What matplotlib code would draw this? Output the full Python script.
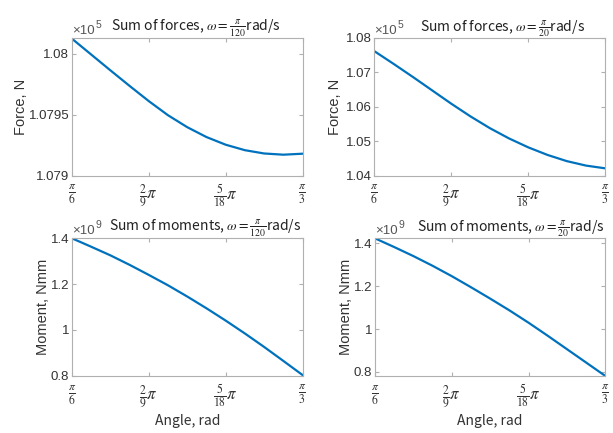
import numpy as np
import matplotlib
matplotlib.use('Agg')
import matplotlib.pyplot as plt

plt.rcParams['mathtext.fontset'] = 'stix'
plt.rcParams['font.family'] = ['Liberation Sans', 'DejaVu Sans']

# angle samples (rad), pi/6 .. pi/3 in steps of pi/72
angle = [12*np.pi/72, 13*np.pi/72, 14*np.pi/72, 15*np.pi/72, 16*np.pi/72, 17*np.pi/72,
         18*np.pi/72, 19*np.pi/72, 20*np.pi/72, 21*np.pi/72, 22*np.pi/72, 23*np.pi/72,
         24*np.pi/72]

# values (force in 1e5 N, moment in 1e9 Nmm)
force_120 = [1.080124, 1.079994, 1.079864, 1.079736, 1.079611, 1.079495, 1.079397,
             1.079316, 1.079253, 1.079208, 1.079181, 1.079171, 1.079179]
force_20 = [1.07618, 1.07248, 1.06868, 1.06478, 1.06088, 1.05718, 1.05378,
            1.05078, 1.04818, 1.04598, 1.04418, 1.04288, 1.04208]
moment_120 = [1.3985, 1.362, 1.3245, 1.2832, 1.2394, 1.1942, 1.1455,
              1.0944, 1.0409, 0.9849, 0.9265, 0.8657, 0.8044]
moment_20 = [1.4234, 1.3828, 1.3406, 1.2953, 1.2469, 1.1953, 1.1422,
             1.0875, 1.0297, 0.9688, 0.9063, 0.8438, 0.7813]

xticks = [np.pi/6, 2*np.pi/9, 5*np.pi/18, np.pi/3]
xticklabels = [r'$\frac{\pi}{6}$', r'$\frac{2}{9}\pi$', r'$\frac{5}{18}\pi$', r'$\frac{\pi}{3}$']

W, H = 613, 433
fig = plt.figure(figsize=(W/100, H/100), dpi=100)

frame = '#b0b0b0'
txt = '#333333'
blue = '#0072BD'
cjk = ['Noto Sans CJK KR', 'DejaVu Sans']

def make_ax(l, r, t, b):
    return fig.add_axes([l/W, 1 - b/H, (r-l)/W, (b-t)/H])

def style(ax, y, ylim, yticks, yticklabels, title, title_x, ylabel, exp, ylab_x, xlabel=None):
    ax.plot(angle, y, color=blue, lw=1.6)
    ax.set_xlim(np.pi/6, np.pi/3)
    ax.set_ylim(*ylim)
    ax.set_xticks(xticks)
    ax.set_xticklabels(xticklabels, fontsize=12)
    ax.set_yticks(yticks)
    ax.set_yticklabels(yticklabels, fontsize=9.5)
    for s in ax.spines.values():
        s.set_color(frame)
        s.set_linewidth(0.8)
    ax.tick_params(direction='in', length=3, width=0.8, color=frame, labelcolor=txt,
                   top=True, right=True)
    ax.tick_params(axis='x', pad=5)
    ax.tick_params(axis='y', pad=2)
    ax.set_title(title, fontsize=10, family=cjk, color='#222222', pad=5, x=title_x)
    ax.set_ylabel(ylabel, fontsize=10.5, color=txt)
    ax.yaxis.set_label_coords(ylab_x, 0.5)
    if xlabel:
        ax.set_xlabel(xlabel, fontsize=10, family=cjk, color=txt, labelpad=3)
    ax.annotate('×10', xy=(0, 1), xycoords='axes fraction', xytext=(0, 1),
                textcoords='offset points', fontsize=9.5, color='#555555',
                ha='left', va='bottom')
    ax.annotate(exp, xy=(0, 1), xycoords='axes fraction', xytext=(17, 6),
                textcoords='offset points', fontsize=7.5, color='#555555',
                ha='left', va='bottom')

ax1 = make_ax(72, 302.5, 38, 175.5)
style(ax1, force_120, (1.079, 1.08013), [1.079, 1.0795, 1.08], ['1.079', '1.0795', '1.08'],
      r'Sum of forces, $\omega = \frac{\pi}{120}$rad/s', 0.538, 'Force, N', '5', -0.19)

ax2 = make_ax(374.3, 605.3, 38, 175.5)
style(ax2, force_20, (1.04, 1.08), [1.04, 1.05, 1.06, 1.07, 1.08],
      ['1.04', '1.05', '1.06', '1.07', '1.08'],
      r'Sum of forces, $\omega = \frac{\pi}{20}$rad/s', 0.553, 'Force, N', '5', -0.139)

ax3 = make_ax(72, 302.5, 238, 376)
style(ax3, moment_120, (0.8, 1.4), [0.8, 1.0, 1.2, 1.4], ['0.8', '1', '1.2', '1.4'],
      r'Sum of moments, $\omega = \frac{\pi}{120}$rad/s', 0.577, 'Moment, Nmm', '9', -0.096,
      xlabel='Angle, rad')

ax4 = make_ax(375, 605.3, 238, 376)
style(ax4, moment_20, (0.781, 1.425), [0.8, 1.0, 1.2, 1.4], ['0.8', '1', '1.2', '1.4'],
      r'Sum of moments, $\omega = \frac{\pi}{20}$rad/s', 0.591, 'Moment, Nmm', '9', -0.096,
      xlabel='Angle, rad')

fig.savefig('out.png', dpi=100)
